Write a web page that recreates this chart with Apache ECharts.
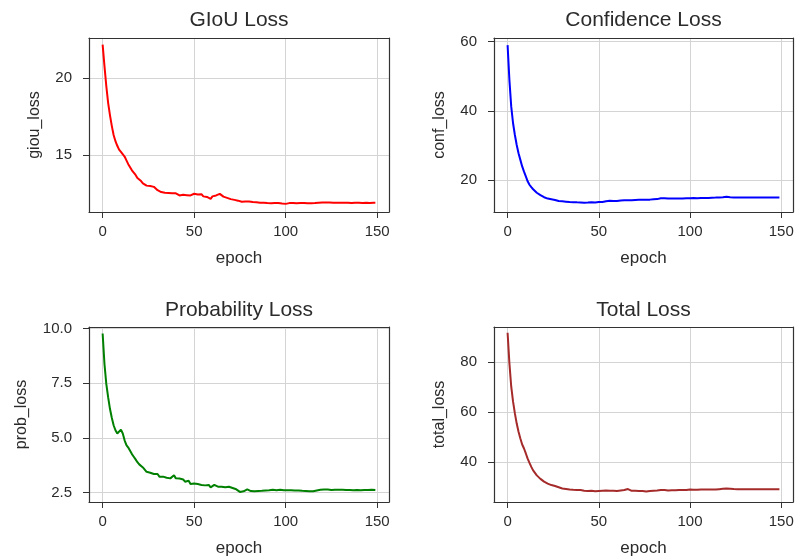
<!DOCTYPE html>
<html>
<head>
<meta charset="utf-8">
<script src="https://cdn.jsdelivr.net/npm/echarts@6/dist/echarts.min.js"></script>
<style>
  html, body { margin: 0; padding: 0; background: #fff; }
  #chart { width: 798px; height: 558px; }
</style>
</head>
<body>
<div id="chart"></div>
<script>
// loss values per epoch (0..149)
const giouLoss = [
  22.2, 20.8, 19.5, 18.4, 17.6, 16.9, 16.3, 15.9, 15.6, 15.35,
  15.2, 15.1, 14.9, 14.65, 14.4, 14.2, 14.0, 13.85, 13.7, 13.5,
  13.4, 13.3, 13.15, 13.1, 13.0, 12.95, 12.97, 12.9, 12.92, 12.8,
  12.7, 12.62, 12.58, 12.55, 12.53, 12.5, 12.52, 12.48, 12.5, 12.46,
  12.5, 12.44, 12.36, 12.3, 12.4, 12.42, 12.38, 12.44, 12.36, 12.4,
  12.47, 12.5, 12.42, 12.38, 12.44, 12.3, 12.36, 12.26, 12.32, 12.14,
  12.3, 12.22, 12.36, 12.42, 12.46, 12.38, 12.28, 12.26, 12.2, 12.18,
  12.12, 12.1, 12.07, 12.04, 12.02, 11.99, 11.95, 11.9, 11.96, 11.98,
  11.97, 11.95, 11.93, 11.96, 11.92, 11.9, 11.89, 11.92, 11.88, 11.86,
  11.86, 11.88, 11.85, 11.87, 11.86, 11.84, 11.86, 11.85, 11.83, 11.84,
  11.81, 11.83, 11.86, 11.88, 11.87, 11.86, 11.85, 11.87, 11.86, 11.85,
  11.86, 11.84, 11.85, 11.86, 11.85, 11.84, 11.86, 11.87, 11.88, 11.9,
  11.9, 11.91, 11.9, 11.92, 11.9, 11.89, 11.88, 11.89, 11.88, 11.87,
  11.88, 11.87, 11.88, 11.87, 11.88, 11.88, 11.87, 11.88, 11.88, 11.87,
  11.88, 11.88, 11.87, 11.88, 11.88, 11.88, 11.87, 11.88, 11.88, 11.88
];
const confLoss = [
  59.0, 48.9, 41.2, 36.4, 33.0, 30.1, 27.7, 25.8, 23.9, 22.4,
  21.0, 19.6, 18.6, 17.9, 17.3, 16.8, 16.3, 16.0, 15.6, 15.3,
  15.0, 14.8, 14.6, 14.5, 14.4, 14.3, 14.2, 14.05, 13.9, 13.85,
  13.8, 13.75, 13.7, 13.65, 13.6, 13.6, 13.55, 13.5, 13.52, 13.48,
  13.5, 13.45, 13.4, 13.2, 13.45, 13.6, 13.55, 13.6, 13.5, 13.55,
  13.6, 13.58, 13.62, 13.7, 13.8, 14.1, 13.95, 14.0, 13.9, 13.95,
  13.9, 14.0, 14.05, 14.0, 14.1, 14.1, 14.15, 14.05, 14.1, 14.2,
  14.2, 14.15, 14.25, 14.2, 14.3, 14.3, 14.25, 14.35, 14.3, 14.4,
  14.4, 14.35, 14.45, 14.5, 14.7, 14.8, 14.7, 14.65, 14.6, 14.65,
  14.6, 14.65, 14.6, 14.62, 14.6, 14.6, 14.65, 14.62, 14.68, 14.7,
  14.7, 14.72, 14.75, 14.7, 14.72, 14.75, 14.78, 14.75, 14.8, 14.78,
  14.8, 14.82, 14.85, 14.82, 14.88, 14.9, 14.92, 14.95, 15.0, 15.05,
  15.1, 15.05, 15.0, 14.98, 14.95, 14.92, 14.9, 14.92, 14.9, 14.92,
  14.9, 14.92, 14.9, 14.88, 14.9, 14.92, 14.9, 14.9, 14.88, 14.9,
  14.9, 14.92, 14.9, 14.9, 14.88, 14.9, 14.9, 14.92, 14.9, 14.9
];
const probLoss = [
  9.77, 8.38, 7.47, 6.86, 6.33, 5.92, 5.58, 5.35, 5.2, 5.23,
  5.38, 5.2, 4.89, 4.67, 4.56, 4.41, 4.26, 4.14, 4.02, 3.89,
  3.79, 3.71, 3.65, 3.56, 3.45, 3.53, 3.41, 3.45, 3.35, 3.29,
  3.35, 3.23, 3.29, 3.23, 3.26, 3.18, 3.22, 3.15, 3.2, 3.29,
  3.15, 3.08, 3.14, 3.05, 3.1, 3.0, 2.95, 3.04, 2.89, 2.95,
  2.92, 2.97, 2.89, 2.95, 2.85, 2.89, 2.83, 2.77, 2.85, 2.74,
  2.77, 2.85, 2.8, 2.77, 2.85, 2.77, 2.8, 2.74, 2.8, 2.77,
  2.74, 2.71, 2.68, 2.65, 2.59, 2.53, 2.5, 2.56, 2.62, 2.65,
  2.59, 2.57, 2.58, 2.56, 2.59, 2.57, 2.56, 2.58, 2.59, 2.6,
  2.62, 2.61, 2.62, 2.63, 2.62, 2.61, 2.62, 2.63, 2.62, 2.61,
  2.62, 2.61, 2.6, 2.61, 2.62, 2.6, 2.59, 2.6, 2.59, 2.58,
  2.58, 2.57, 2.57, 2.56, 2.55, 2.56, 2.58, 2.6, 2.62, 2.63,
  2.65, 2.64, 2.63, 2.64, 2.63, 2.62, 2.63, 2.63, 2.62, 2.63,
  2.62, 2.63, 2.62, 2.62, 2.63, 2.62, 2.62, 2.61, 2.62, 2.62,
  2.62, 2.61, 2.62, 2.62, 2.61, 2.62, 2.62, 2.63, 2.62, 2.62
];
const totalLoss = [
  91.9, 79.6, 70.2, 64.2, 59.5, 55.4, 52.1, 49.4, 47.0, 45.4,
  43.4, 41.3, 39.6, 38.0, 36.6, 35.6, 34.6, 34.0, 33.2, 32.6,
  32.1, 31.7, 31.3, 31.0, 30.7, 30.5, 30.3, 30.0, 29.8, 29.5,
  29.3, 29.2, 29.1, 29.0, 28.9, 28.9, 28.8, 28.7, 28.75, 28.6,
  28.7, 28.5, 28.4, 27.9, 28.3, 28.6, 28.4, 28.5, 28.2, 28.4,
  28.3, 28.5, 28.4, 28.3, 28.5, 28.6, 28.4, 28.2, 28.4, 28.1,
  28.3, 28.4, 28.5, 28.6, 28.7, 28.9, 29.1, 28.6, 28.4, 28.5,
  28.4, 28.3, 28.35, 28.2, 28.3, 28.2, 28.1, 28.2, 28.3, 28.4,
  28.4, 28.3, 28.5, 28.6, 28.7, 28.8, 28.7, 28.6, 28.5, 28.6,
  28.6, 28.7, 28.6, 28.65, 28.7, 28.6, 28.7, 28.75, 28.7, 28.8,
  28.9, 28.8, 28.85, 28.9, 28.8, 28.85, 28.9, 28.85, 28.9, 28.9,
  28.9, 28.85, 28.9, 28.95, 28.9, 29.0, 29.05, 29.1, 29.2, 29.3,
  29.3, 29.25, 29.2, 29.15, 29.1, 29.1, 29.05, 29.1, 29.0, 29.05,
  29.0, 29.05, 29.0, 29.0, 29.05, 29.0, 29.0, 29.05, 29.0, 29.0,
  29.0, 29.0, 29.05, 29.0, 29.0, 29.0, 29.05, 29.0, 29.0, 29.0
];

const xTicks = [0, 50, 100, 150];
const giouTicks = [15, 20];
const confTicks = [20, 40, 60];
const probTicks = [2.5, 5.0, 7.5, 10.0];
const totalTicks = [40, 60, 80];

const TEXT = '#2b2b2b';
const EDGE = '#333333';
const GRIDLINE = '#d4d4d4';
const FONT = '"Liberation Sans", Arial, sans-serif';

const panels = [
  { title: 'GIoU Loss', yName: 'giou_loss', data: giouLoss, ticks: giouTicks, color: '#ff0000',
    yMin: 11.28, yMax: 22.63, step: 5, digits: 0, left: 89, top: 38, width: 300, height: 174, nameGap: 46, titleTop: 10 },
  { title: 'Confidence Loss', yName: 'conf_loss', data: confLoss, ticks: confTicks, color: '#0000ff',
    yMin: 10.72, yMax: 61.07, step: 20, digits: 0, left: 494, top: 38, width: 299, height: 174, nameGap: 46, titleTop: 10 },
  { title: 'Probability Loss', yName: 'prob_loss', data: probLoss, ticks: probTicks, color: '#008000',
    yMin: 2.07, yMax: 10.07, step: 2.5, digits: 1, left: 89, top: 327, width: 300, height: 175, nameGap: 59, titleTop: 300 },
  { title: 'Total Loss', yName: 'total_loss', data: totalLoss, ticks: totalTicks, color: '#a52a2a',
    yMin: 23.9, yMax: 94.2, step: 20, digits: 0, left: 494, top: 327, width: 299, height: 175, nameGap: 46, titleTop: 300 }
];

const X_MIN = -7.45, X_MAX = 156.45;

const chart = echarts.init(document.getElementById('chart'), null, { renderer: 'canvas' });

const grid = [], xAxis = [], yAxis = [], series = [], title = [];

function borderAxis(i, position, min, max) {
  return {
    gridIndex: i, type: 'value', position: position, min: min, max: max, z: 5,
    axisLine: { show: true, onZero: false, lineStyle: { color: EDGE, width: 1.2 } },
    axisTick: { show: false }, axisLabel: { show: false }, splitLine: { show: false }
  };
}

panels.forEach((p, i) => {
  grid.push({ left: p.left, top: p.top, width: p.width, height: p.height, show: false });

  title.push({
    text: p.title, left: p.left + p.width / 2, top: p.titleTop, textAlign: 'center', padding: 0,
    textStyle: { color: TEXT, fontFamily: FONT, fontSize: 21, fontWeight: 'normal' }
  });

  // main x axis: ticks, labels, grid lines
  xAxis.push({
    gridIndex: i, type: 'value', position: 'bottom', min: X_MIN, max: X_MAX,
    minInterval: 50, maxInterval: 50, z: 0,
    name: 'epoch', nameLocation: 'middle', nameGap: 38,
    nameTextStyle: { color: TEXT, fontFamily: FONT, fontSize: 17 },
    axisLine: { show: false, onZero: false },
    axisTick: { show: true, length: 6, customValues: xTicks, lineStyle: { color: EDGE, width: 1 } },
    axisLabel: {
      margin: 12, color: TEXT, fontFamily: FONT, fontSize: 15,
      formatter: v => (xTicks.indexOf(v) >= 0 ? String(v) : '')
    },
    splitLine: { show: true, lineStyle: { color: GRIDLINE, width: 1 } }
  });
  xAxis.push(borderAxis(i, 'bottom', X_MIN, X_MAX));
  xAxis.push(borderAxis(i, 'top', X_MIN, X_MAX));

  yAxis.push({
    gridIndex: i, type: 'value', position: 'left', min: p.yMin, max: p.yMax,
    minInterval: p.step, maxInterval: p.step, z: 0,
    name: p.yName, nameLocation: 'middle', nameGap: p.nameGap,
    nameTextStyle: { color: TEXT, fontFamily: FONT, fontSize: 16 },
    axisLine: { show: false, onZero: false },
    axisTick: { show: true, length: 6, customValues: p.ticks, lineStyle: { color: EDGE, width: 1 } },
    axisLabel: {
      margin: 17, color: TEXT, fontFamily: FONT, fontSize: 15,
      formatter: v => {
        const hit = p.ticks.some(t => Math.abs(t - v) < 1e-6);
        return hit ? v.toFixed(p.digits) : '';
      }
    },
    splitLine: { show: true, lineStyle: { color: GRIDLINE, width: 1 } }
  });
  yAxis.push(borderAxis(i, 'left', p.yMin, p.yMax));
  yAxis.push(borderAxis(i, 'right', p.yMin, p.yMax));

  series.push({
    type: 'line', xAxisIndex: i * 3, yAxisIndex: i * 3,
    data: p.data.map((v, k) => [k, v]),
    showSymbol: false, symbol: 'none', silent: true, animation: false,
    lineStyle: { color: p.color, width: 2 },
    itemStyle: { color: p.color }, z: 3
  });
});

chart.setOption({
  backgroundColor: '#ffffff',
  animation: false,
  title: title,
  grid: grid,
  xAxis: xAxis,
  yAxis: yAxis,
  series: series
});
</script>
</body>
</html>
